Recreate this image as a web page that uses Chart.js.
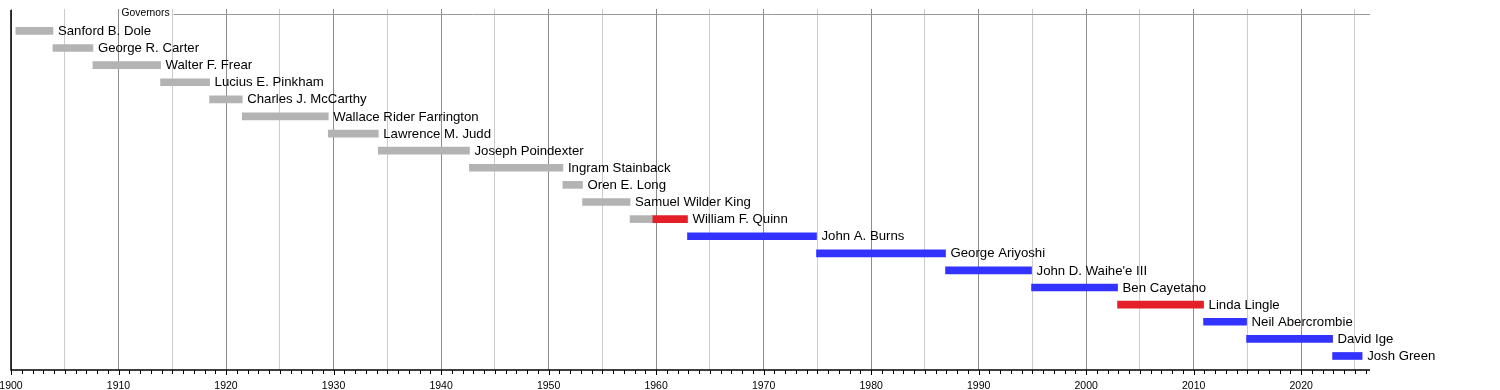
<!DOCTYPE html>
<html lang="en">
<head>
<meta charset="UTF-8">
<title>Governors of Hawaii</title>
<script src="https://cdn.jsdelivr.net/npm/chart.js"></script>
<style>
  html, body { margin: 0; padding: 0; background: #fff; }
  .chart-container { position: relative; width: 1500px; height: 390px; }
</style>
</head>
<body>
<div class="chart-container"><canvas id="timeline"></canvas></div>
<script>
// one row per governor, top to bottom
const governors = [
  'Sanford B. Dole', 'George R. Carter', 'Walter F. Frear', 'Lucius E. Pinkham',
  'Charles J. McCarthy', 'Wallace Rider Farrington', 'Lawrence M. Judd',
  'Joseph Poindexter', 'Ingram Stainback', 'Oren E. Long', 'Samuel Wilder King',
  'William F. Quinn', 'John A. Burns', 'George Ariyoshi', "John D. Waihe'e III",
  'Ben Cayetano', 'Linda Lingle', 'Neil Abercrombie', 'David Ige', 'Josh Green'
];

// term segments (Quinn has two: territorial then Republican)
const segRow   = [0, 1, 2, 3, 4, 5, 6, 7, 8, 9, 10, 11, 11, 12, 13, 14, 15, 16, 17, 18, 19];
const segStart = [1900.45, 1903.9, 1907.62, 1913.91, 1918.47, 1921.51, 1929.51, 1934.16, 1942.64, 1951.33,
                  1953.16, 1957.58, 1959.64, 1962.92, 1974.92, 1986.92, 1994.92, 2002.92, 2010.92, 2014.92, 2022.92];
const segEnd   = [1903.9, 1907.62, 1913.91, 1918.47, 1921.51, 1929.51, 1934.16, 1942.64, 1951.33, 1953.16,
                  1957.58, 1959.64, 1962.92, 1974.92, 1986.92, 1994.92, 2002.92, 2010.92, 2014.92, 2022.92, 2025.67];
const segParty = ['none', 'none', 'none', 'none', 'none', 'none', 'none', 'none', 'none', 'none',
                  'none', 'none', 'rep', 'dem', 'dem', 'dem', 'dem', 'rep', 'dem', 'dem', 'dem'];

const parties = ['none', 'rep', 'dem'];
const partyColors = { none: '#b3b3b3', rep: '#e3202a', dem: '#3333ff' };

const yearMin = 1900;
const yearMax = 2026.4;

const gridYears = [];
for (let y = 1900; y <= 2025; y += 5) gridYears.push(y);

const datasets = parties.map(p => ({
  label: p,
  data: segRow.map((r, i) => ({ x: [segStart[i], segEnd[i]], y: r })).filter((d, i) => segParty[i] === p),
  backgroundColor: partyColors[p],
  barThickness: 7,
  grouped: false,
  borderWidth: 0
}));

const FONT = "'Liberation Sans', Arial, sans-serif";

const decor = {
  id: 'decor',
  afterDraw(chart) {
    const { ctx, chartArea, scales } = chart;
    const xs = scales.x, ys = scales.y;
    ctx.save();

    // left and bottom axis lines
    ctx.strokeStyle = '#000';
    ctx.lineWidth = 1.5;
    ctx.beginPath();
    ctx.moveTo(chartArea.left, chartArea.top + 1);
    ctx.lineTo(chartArea.left, chartArea.bottom);
    ctx.lineTo(chartArea.right, chartArea.bottom);
    ctx.stroke();

    // year tick marks
    ctx.lineWidth = 1;
    for (let yr = 1900; yr <= 2026; yr++) {
      const px = Math.round(xs.getPixelForValue(yr)) + 0.5;
      const len = yr % 10 === 0 ? 5 : 4;
      ctx.beginPath();
      ctx.moveTo(px, chartArea.bottom);
      ctx.lineTo(px, chartArea.bottom + len);
      ctx.stroke();
    }

    // group title and top rule
    ctx.font = '10.3px ' + FONT;
    ctx.fillStyle = '#000';
    ctx.textBaseline = 'middle';
    const tx = xs.getPixelForValue(1910) + 3;
    const ty = chartArea.top + 4.5;
    ctx.fillText('Governors', tx, ty);
    const tw = ctx.measureText('Governors').width;
    ctx.strokeStyle = '#999';
    ctx.beginPath();
    ctx.moveTo(tx + tw + 4, Math.round(ty) + 0.5);
    ctx.lineTo(chartArea.right, Math.round(ty) + 0.5);
    ctx.stroke();

    // governor names at end of each row
    ctx.font = '13.2px ' + FONT;
    governors.forEach((name, r) => {
      let end = -Infinity;
      segRow.forEach((row, i) => { if (row === r) end = Math.max(end, segEnd[i]); });
      ctx.fillText(name, xs.getPixelForValue(end) + 5, ys.getPixelForValue(r) + 0.5);
    });
    ctx.restore();
  }
};

new Chart(document.getElementById('timeline'), {
  type: 'bar',
  data: { datasets: datasets },
  options: {
    indexAxis: 'y',
    responsive: true,
    maintainAspectRatio: false,
    animation: false,
    layout: { padding: { left: 11, right: 130, top: 9, bottom: 1 } },
    plugins: { legend: { display: false }, tooltip: { enabled: false } },
    scales: {
      x: {
        type: 'linear',
        min: yearMin,
        max: yearMax,
        afterBuildTicks: s => { s.ticks = gridYears.map(v => ({ value: v })); },
        afterFit: s => { s.paddingLeft = 0; s.paddingRight = 0; s.height = 19; },
        grid: {
          drawTicks: false,
          color: c => (c.tick && c.tick.value % 10 === 0) ? '#8c8c8c' : '#cccccc',
          lineWidth: 1
        },
        border: { display: false },
        ticks: {
          padding: 10,
          autoSkip: false,
          maxRotation: 0,
          color: '#000',
          font: { family: FONT, size: 10.5 },
          callback: v => v % 10 === 0 ? String(v) : ''
        }
      },
      y: {
        type: 'linear',
        offset: false,
        min: -1.28,
        max: 19.82,
        reverse: true,
        display: false
      }
    }
  },
  plugins: [decor]
});
</script>
</body>
</html>
